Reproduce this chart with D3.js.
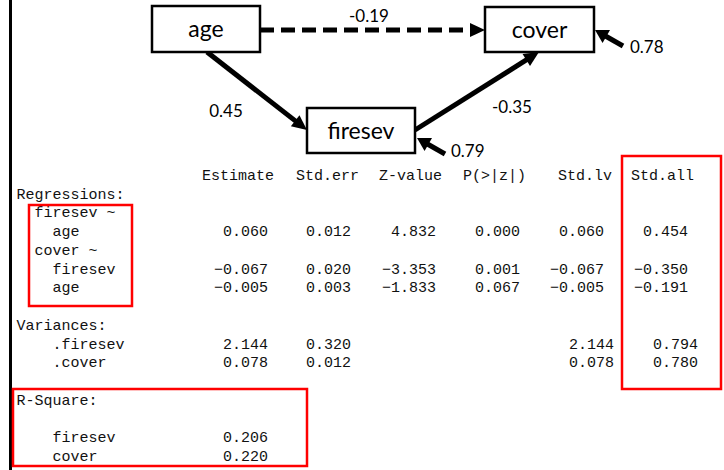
<!DOCTYPE html>
<html>
<head>
<meta charset="utf-8">
<script src="https://cdn.jsdelivr.net/npm/d3@7"></script>
<style>
  body { margin: 0; background: #fff; }
  svg { display: block; }
</style>
</head>
<body>
<svg id="chart" width="724" height="470"></svg>
<script>
// path diagram values
var nodes = ["age", "cover", "firesev"];
var paths = [
  { from: "age", to: "cover", coef: "-0.19", dashed: true },
  { from: "age", to: "firesev", coef: "0.45", dashed: false },
  { from: "firesev", to: "cover", coef: "-0.35", dashed: false }
];
var residuals = [
  { node: "cover", coef: "0.78" },
  { node: "firesev", coef: "0.79" }
];

// lavaan summary values
var headers = ["Estimate", "Std.err", "Z-value", "P(>|z|)", "Std.lv", "Std.all"];
var regressions = [
  { label: "firesev ~", depth: 1, vals: [] },
  { label: "age", depth: 2, vals: ["0.060", "0.012", "4.832", "0.000", "0.060", "0.454"] },
  { label: "cover ~", depth: 1, vals: [] },
  { label: "firesev", depth: 2, vals: ["−0.067", "0.020", "−3.353", "0.001", "−0.067", "−0.350"] },
  { label: "age", depth: 2, vals: ["−0.005", "0.003", "−1.833", "0.067", "−0.005", "−0.191"] }
];
var variances = [
  { label: ".firesev", vals: ["2.144", "0.320", "", "", "2.144", "0.794"] },
  { label: ".cover", vals: ["0.078", "0.012", "", "", "0.078", "0.780"] }
];
var rsquare = [
  { label: "firesev", vals: ["0.206"] },
  { label: "cover", vals: ["0.220"] }
];

// layout (positions only)
var boxLayout = {
  age: { x: 152, y: 6, w: 108, h: 46 },
  cover: { x: 485, y: 7, w: 109, h: 45 },
  firesev: { x: 307, y: 108, w: 108, h: 45 }
};
var pathLayout = [
  { x1: 260, y1: 30, x2: 485, y2: 30, lx: 369, ly: 22 },
  { x1: 207, y1: 52, x2: 307, y2: 130, lx: 226, ly: 117 },
  { x1: 415, y1: 130, x2: 539, y2: 52, lx: 512, ly: 113 }
];
var residLayout = [
  { x1: 623, y1: 46, x2: 595, y2: 30, lx: 630, ly: 53 },
  { x1: 445, y1: 154, x2: 417, y2: 138, lx: 451, ly: 157 }
];
var headerStart = [202, 296, 379, 463, 558, 631];
var regEnd = [268, 351, 436, 520, 604, 688];
var varEnd = [268, 351, 436, 520, 614, 698];
var cw = 9;

var svg = d3.select("#chart");

// row scale for the monospace summary (line index -> baseline)
var row = d3.scaleLinear().domain([0, 15]).range([180, 461]);

// left border line
svg.append("line")
  .attr("x1", 10.5).attr("x2", 10.5)
  .attr("y1", 0).attr("y2", 470)
  .attr("stroke", "#000").attr("stroke-width", 3);

var defs = svg.append("defs");
defs.append("marker")
  .attr("id", "head")
  .attr("viewBox", "0 0 10 10")
  .attr("refX", 10).attr("refY", 5)
  .attr("markerWidth", 3.2).attr("markerHeight", 2.8)
  .attr("markerUnits", "strokeWidth")
  .attr("orient", "auto")
  .append("path")
    .attr("d", "M0,0L10,5L0,10Z")
    .attr("fill", "#000");

// shorten a line so the marker tip lands on the end point
function shorten(p, by) {
  var dx = p.x2 - p.x1, dy = p.y2 - p.y1;
  var len = Math.sqrt(dx * dx + dy * dy);
  return { x: p.x2 - dx / len * by, y: p.y2 - dy / len * by };
}

var diagram = svg.append("g").attr("font-family", "Lato, 'Open Sans', sans-serif");

paths.forEach(function(p, i) {
  var l = pathLayout[i];
  var end = shorten(l, 14);
  diagram.append("line")
    .attr("x1", l.x1).attr("y1", l.y1)
    .attr("x2", end.x).attr("y2", end.y)
    .attr("stroke", "#000").attr("stroke-width", 5)
    .attr("stroke-dasharray", p.dashed ? "14,7" : null);
  diagram.append("path")
    .attr("d", arrowHead(l, 15, 7))
    .attr("fill", "#000");
  diagram.append("text")
    .attr("x", l.lx).attr("y", l.ly)
    .attr("text-anchor", "middle")
    .attr("font-size", 17)
    .attr("fill", "#000")
    .text(p.coef);
});

residuals.forEach(function(r, i) {
  var l = residLayout[i];
  var end = shorten(l, 11);
  diagram.append("line")
    .attr("x1", l.x1).attr("y1", l.y1)
    .attr("x2", end.x).attr("y2", end.y)
    .attr("stroke", "#000").attr("stroke-width", 5);
  diagram.append("path")
    .attr("d", arrowHead(l, 13, 7.5))
    .attr("fill", "#000");
  diagram.append("text")
    .attr("x", l.lx).attr("y", l.ly)
    .attr("font-size", 17)
    .attr("fill", "#000")
    .text(r.coef);
});

function arrowHead(l, len, half) {
  var dx = l.x2 - l.x1, dy = l.y2 - l.y1;
  var d = Math.sqrt(dx * dx + dy * dy);
  var ux = dx / d, uy = dy / d;
  var bx = l.x2 - ux * len, by = l.y2 - uy * len;
  return "M" + l.x2 + "," + l.y2 +
    "L" + (bx - uy * half) + "," + (by + ux * half) +
    "L" + (bx + uy * half) + "," + (by - ux * half) + "Z";
}

var box = diagram.selectAll("g.node")
  .data(nodes)
  .enter().append("g")
    .attr("class", "node");

box.append("rect")
  .attr("x", function(d) { return boxLayout[d].x; })
  .attr("y", function(d) { return boxLayout[d].y; })
  .attr("width", function(d) { return boxLayout[d].w; })
  .attr("height", function(d) { return boxLayout[d].h; })
  .attr("fill", "#fff")
  .attr("stroke", "#000")
  .attr("stroke-width", 2.5);

box.append("text")
  .attr("x", function(d) { return boxLayout[d].x + boxLayout[d].w / 2; })
  .attr("y", function(d) { return boxLayout[d].y + boxLayout[d].h / 2 + 8; })
  .attr("text-anchor", "middle")
  .attr("font-size", 23)
  .attr("fill", "#000")
  .text(function(d) { return d; });

// summary table
var table = svg.append("g")
  .attr("font-family", "'Liberation Mono', 'DejaVu Sans Mono', monospace")
  .attr("font-size", 15)
  .attr("fill", "#111");

table.selectAll("text.hdr")
  .data(headers)
  .enter().append("text")
    .attr("class", "hdr")
    .attr("x", function(d, i) { return headerStart[i]; })
    .attr("y", row(0))
    .text(function(d) { return d; });

function label(txt, depth, line) {
  table.append("text")
    .attr("x", 16.5 + depth * 2 * cw)
    .attr("y", row(line))
    .text(txt);
}

function values(vals, ends, line) {
  vals.forEach(function(v, i) {
    if (!v) return;
    table.append("text")
      .attr("x", ends[i])
      .attr("y", row(line))
      .attr("text-anchor", "end")
      .text(v);
  });
}

label("Regressions:", 0, 1);
regressions.forEach(function(r, i) {
  label(r.label, r.depth, 2 + i);
  values(r.vals, regEnd, 2 + i);
});

label("Variances:", 0, 8);
variances.forEach(function(r, i) {
  label(r.label, 2, 9 + i);
  values(r.vals, varEnd, 9 + i);
});

label("R-Square:", 0, 12);
rsquare.forEach(function(r, i) {
  label(r.label, 2, 14 + i);
  values(r.vals, regEnd, 14 + i);
});

// red highlight boxes
var highlights = [
  { x: 29, y: 205, w: 103, h: 101 },
  { x: 622, y: 156, w: 99, h: 233 },
  { x: 13, y: 389, w: 294, h: 77 }
];
svg.selectAll("rect.hl")
  .data(highlights)
  .enter().append("rect")
    .attr("class", "hl")
    .attr("x", function(d) { return d.x; })
    .attr("y", function(d) { return d.y; })
    .attr("width", function(d) { return d.w; })
    .attr("height", function(d) { return d.h; })
    .attr("fill", "none")
    .attr("stroke", "#f00")
    .attr("stroke-width", 2.5);
</script>
</body>
</html>
